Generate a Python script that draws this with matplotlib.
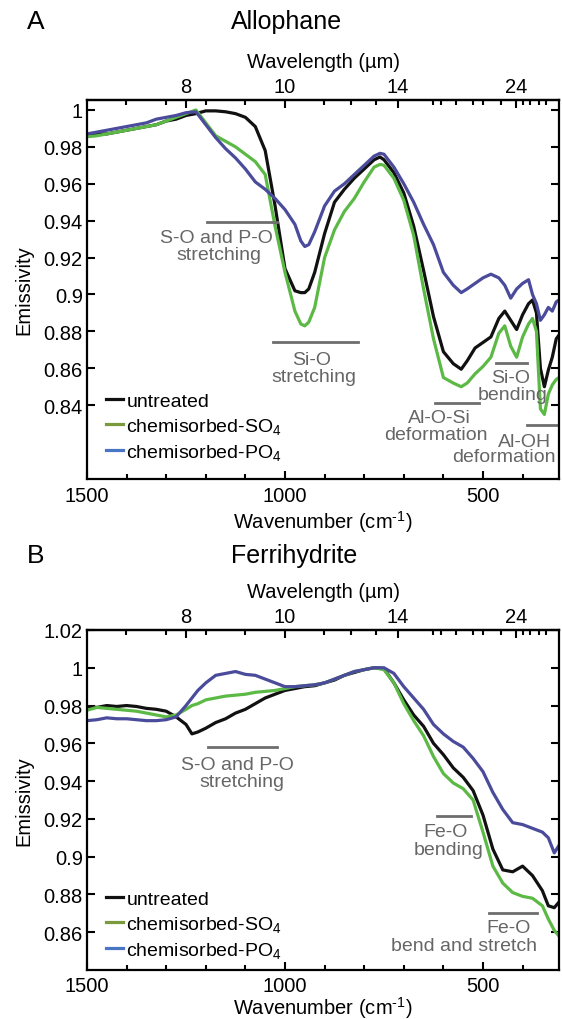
import matplotlib
matplotlib.use('Agg')
import matplotlib.pyplot as plt
from matplotlib.lines import Line2D
import numpy as np

# ---------------- data ----------------
wn_A = [1500, 1475, 1450, 1425, 1400, 1375, 1350, 1325, 1300, 1275, 1250, 1225, 1200, 1175,
        1150, 1125, 1100, 1075, 1050, 1025, 1000, 975, 960, 950, 940, 925, 900, 875, 850,
        825, 800, 775, 760, 750, 725, 700, 675, 650, 625, 600, 575, 555, 540, 520, 500,
        480, 460, 445, 430, 415, 400, 385, 375, 365, 355, 345, 335, 325, 315, 308]
untreated_A = [0.986, 0.987, 0.987, 0.988, 0.989, 0.990, 0.991, 0.992, 0.994, 0.995, 0.997, 0.998,
               0.9995, 0.9995, 0.999, 0.998, 0.996, 0.991, 0.978, 0.948, 0.914, 0.902, 0.901, 0.901,
               0.903, 0.912, 0.933, 0.950, 0.957, 0.963, 0.968, 0.973, 0.9745, 0.973, 0.966, 0.955,
               0.937, 0.913, 0.888, 0.869, 0.8625, 0.8595, 0.864, 0.871, 0.874, 0.877, 0.887, 0.891,
               0.886, 0.881, 0.889, 0.895, 0.897, 0.890, 0.860, 0.850, 0.859, 0.866, 0.876, 0.878]
so4_A = [0.9855, 0.986, 0.987, 0.988, 0.989, 0.990, 0.991, 0.992, 0.994, 0.996, 0.998, 1.000,
         0.993, 0.986, 0.983, 0.980, 0.976, 0.972, 0.965, 0.937, 0.912, 0.891, 0.884, 0.883,
         0.885, 0.893, 0.920, 0.935, 0.945, 0.952, 0.961, 0.969, 0.9705, 0.970, 0.963, 0.951,
         0.932, 0.903, 0.876, 0.855, 0.852, 0.850, 0.852, 0.857, 0.861, 0.866, 0.879, 0.883,
         0.872, 0.866, 0.877, 0.884, 0.887, 0.880, 0.838, 0.835, 0.846, 0.851, 0.854, 0.855]
po4_A = [0.987, 0.988, 0.989, 0.990, 0.991, 0.992, 0.993, 0.995, 0.996, 0.997, 0.9985, 0.999,
         0.992, 0.985, 0.979, 0.974, 0.968, 0.961, 0.957, 0.952, 0.946, 0.938, 0.929, 0.926,
         0.927, 0.934, 0.948, 0.956, 0.960, 0.965, 0.970, 0.975, 0.9765, 0.976, 0.969, 0.960,
         0.950, 0.938, 0.927, 0.912, 0.905, 0.901, 0.903, 0.906, 0.909, 0.911, 0.909, 0.905,
         0.898, 0.903, 0.906, 0.908, 0.900, 0.895, 0.886, 0.889, 0.893, 0.891, 0.896, 0.897]

wn_B = [1500, 1475, 1450, 1425, 1400, 1375, 1350, 1325, 1300, 1275, 1250, 1235, 1220, 1200,
        1175, 1150, 1125, 1100, 1075, 1050, 1025, 1000, 975, 950, 925, 900, 875, 850, 825,
        800, 775, 750, 725, 700, 675, 650, 625, 600, 575, 550, 525, 500, 475, 450, 425, 400,
        375, 350, 335, 320, 308]
untreated_B = [0.9795, 0.979, 0.980, 0.9795, 0.980, 0.9795, 0.9785, 0.978, 0.977, 0.974, 0.970,
               0.965, 0.966, 0.968, 0.971, 0.973, 0.976, 0.978, 0.981, 0.984, 0.986, 0.988, 0.989,
               0.990, 0.9905, 0.992, 0.9935, 0.996, 0.9975, 0.999, 1.000, 0.9995, 0.992, 0.983,
               0.975, 0.969, 0.960, 0.954, 0.947, 0.942, 0.935, 0.922, 0.904, 0.893, 0.892, 0.895,
               0.890, 0.882, 0.874, 0.873, 0.876]
so4_B = [0.9775, 0.979, 0.9785, 0.978, 0.9775, 0.977, 0.976, 0.975, 0.974, 0.975, 0.978, 0.980,
         0.981, 0.983, 0.984, 0.985, 0.9855, 0.986, 0.987, 0.9875, 0.988, 0.989, 0.990, 0.9905,
         0.991, 0.992, 0.994, 0.996, 0.998, 0.999, 1.000, 0.999, 0.992, 0.981, 0.972, 0.964,
         0.953, 0.944, 0.939, 0.936, 0.930, 0.913, 0.895, 0.886, 0.881, 0.879, 0.878, 0.874,
         0.867, 0.861, 0.858]
po4_B = [0.972, 0.9725, 0.9735, 0.973, 0.973, 0.9725, 0.972, 0.972, 0.9725, 0.974, 0.980, 0.984,
         0.988, 0.992, 0.996, 0.997, 0.998, 0.9965, 0.996, 0.994, 0.992, 0.990, 0.990, 0.9905,
         0.991, 0.992, 0.994, 0.996, 0.998, 0.999, 1.000, 1.000, 0.997, 0.990, 0.984, 0.978,
         0.970, 0.965, 0.961, 0.958, 0.952, 0.945, 0.934, 0.925, 0.918, 0.917, 0.915, 0.913,
         0.910, 0.902, 0.906]

series_labels = ['untreated', 'chemisorbed-SO$_4$', 'chemisorbed-PO$_4$']
curve_colors = ['#111111', '#5cb946', '#4b4b9b']
legend_colors = ['#111111', '#7a9a3c', '#4a74c4']

wn_ticks = [1500, 1000, 500]
wn_ticklabels = ['1500', '1000', '500']
wl_ticks = [8, 10, 14, 24]
wl_ticklabels = ['8', '10', '14', '24']
wl_minor = [7.14, 7.69, 8.33, 9.09, 11.1, 12, 13, 16, 16.5, 17.6, 19, 20, 22, 25, 26.3, 27.8, 29.4]

yticks_A = [0.84, 0.86, 0.88, 0.90, 0.92, 0.94, 0.96, 0.98, 1.00]
yticklabels_A = ['0.84', '0.86', '0.88', '0.9', '0.92', '0.94', '0.96', '0.98', '1']
yticks_B = [0.86, 0.88, 0.90, 0.92, 0.94, 0.96, 0.98, 1.00, 1.02]
yticklabels_B = ['0.86', '0.88', '0.9', '0.92', '0.94', '0.96', '0.98', '1', '1.02']

# annotations: (wn_start, wn_end, y) for bars, (text, wn, y) for texts
bars_A = [(1198, 1021, 0.9395), (1031, 815, 0.8745), (622, 509, 0.8413), (467, 389, 0.8627), (389, 300, 0.829)]
texts_A = [('S-O and P-O', 1172, 0.9308), ('stretching', 1167, 0.9216),
           ('Si-O', 932, 0.8649), ('stretching', 926, 0.8558),
           ('Al-O-Si', 611, 0.8335), ('deformation', 618, 0.8243),
           ('Si-O', 430, 0.855), ('bending', 425, 0.846),
           ('Al-OH', 394, 0.8205), ('deformation', 447, 0.812)]
bars_B = [(1195, 1021, 0.958), (616, 530, 0.9215), (485, 364, 0.8702)]
texts_B = [('S-O and P-O', 1120, 0.949), ('stretching', 1110, 0.940),
           ('Fe-O', 594, 0.9135), ('bending', 588, 0.904),
           ('Fe-O', 436, 0.8625), ('bend and stretch', 548, 0.853)]

# ---------------- style ----------------
plt.rcParams['font.family'] = ['Liberation Sans', 'DejaVu Sans']
plt.rcParams['mathtext.fontset'] = 'custom'
plt.rcParams['mathtext.rm'] = 'Liberation Sans'
plt.rcParams['mathtext.it'] = 'Liberation Sans:italic'
plt.rcParams['mathtext.bf'] = 'Liberation Sans:bold'

FS = 14.5
GRAY_T = '#666666'
GRAY_L = '#6e6e6e'

fig = plt.figure(figsize=(5.62, 10.2), dpi=100)
axA = fig.add_axes([0.1548, 0.5294, 0.8399, 0.3716])
axB = fig.add_axes([0.1548, 0.0480, 0.8399, 0.3334])


def inv(x):
    x = np.asarray(x, dtype=float)
    with np.errstate(divide='ignore', invalid='ignore'):
        return 1e4 / x


def style(ax, ylim, yt, ytl, wn, ys, bars, texts, leg_anchor, xlabelpad, xpad):
    for y, c in zip(ys, curve_colors):
        ax.plot(wn, y, color=c, lw=2.3, solid_joinstyle='round')
    ax.set_xlim(1500, 308)
    ax.set_ylim(*ylim)
    ax.set_xticks(wn_ticks)
    ax.set_xticklabels(wn_ticklabels)
    ax.set_xticks(np.arange(1400, 300, -100), minor=True)
    ax.set_yticks(yt)
    ax.set_yticklabels(ytl)
    ax.tick_params(which='both', direction='in', top=False, right=True, width=1.5,
                   labelsize=FS)
    ax.tick_params(which='major', length=6)
    ax.tick_params(which='minor', length=3.5)
    ax.tick_params(axis='y', which='minor', left=False, right=False)
    ax.tick_params(axis='x', pad=xpad)
    ax.tick_params(axis='y', pad=3)
    for s in ax.spines.values():
        s.set_linewidth(1.6)
    ax.set_xlabel('Wavenumber (cm$^{\\text{-}1}$)', fontsize=FS, labelpad=xlabelpad)
    ax.set_ylabel('Emissivity', fontsize=FS, labelpad=7)
    sec = ax.secondary_xaxis('top', functions=(inv, inv))
    sec.set_xticks(wl_ticks)
    sec.set_xticklabels(wl_ticklabels)
    sec.set_xticks(wl_minor, minor=True)
    sec.tick_params(which='both', direction='in', width=1.5, labelsize=FS, pad=3)
    sec.tick_params(which='major', length=6)
    sec.tick_params(which='minor', length=3.5)
    sec.spines['top'].set_linewidth(1.6)
    sec.set_xlabel('Wavelength (\u00b5m)', fontsize=FS, labelpad=7)
    for x0, x1, yb in bars:
        ax.plot([x0, x1], [yb, yb], color=GRAY_L, lw=2)
    for t, x, y in texts:
        ax.text(x, y, t, ha='center', va='center', color=GRAY_T, fontsize=14)
    handles = [Line2D([], [], color=c, lw=2.3) for c in legend_colors]
    ax.legend(handles, series_labels, loc='lower left', bbox_to_anchor=leg_anchor,
              frameon=False, handlelength=0.9, handletextpad=0.15, labelspacing=0.3,
              borderpad=0, borderaxespad=0, fontsize=14)


style(axA, (0.80, 1.0054), yticks_A, yticklabels_A, wn_A, [untreated_A, so4_A, po4_A],
      bars_A, texts_A, (0.04, 0.045), 2, 5)
style(axB, (0.84, 1.02), yticks_B, yticklabels_B, wn_B, [untreated_B, so4_B, po4_B],
      bars_B, texts_B, (0.04, 0.03), 0, 4)

fig.text(27 / 562, 1 - 22 / 1020, 'A', fontsize=19, ha='left', va='center')
fig.text(287 / 562, 1 - 22 / 1020, 'Allophane', fontsize=18, ha='center', va='center')
fig.text(27 / 562, 1 - 556 / 1020, 'B', fontsize=19, ha='left', va='center')
fig.text(294 / 562, 1 - 556 / 1020, 'Ferrihydrite', fontsize=18, ha='center', va='center')

fig.savefig('out.png', dpi=100)
